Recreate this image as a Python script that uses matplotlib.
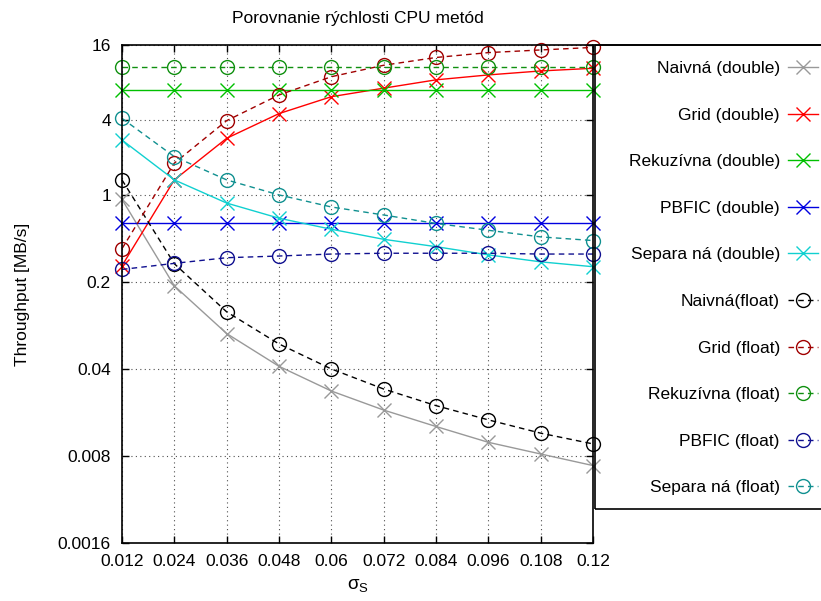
import numpy as np
import matplotlib.pyplot as plt
from matplotlib.patches import Rectangle

plt.rcParams['font.family'] = ['Liberation Sans', 'DejaVu Sans']
plt.rcParams['font.size'] = 12.5

# sigma_s values on the x axis
sigma = [0.012, 0.024, 0.036, 0.048, 0.06, 0.072, 0.084, 0.096, 0.108, 0.12]

# throughput in MB/s, double precision
naive_d = [0.92, 0.186, 0.077, 0.042, 0.0266, 0.0187, 0.0138, 0.0103, 0.0083, 0.0067]
grid_d = [0.27, 1.32, 2.85, 4.5, 6.15, 7.2, 8.4, 9.2, 9.9, 10.4]
rec_d = [7.0, 7.0, 7.0, 7.0, 7.0, 7.0, 7.0, 7.0, 7.0, 7.0]
pbfic_d = [0.6, 0.6, 0.6, 0.6, 0.6, 0.6, 0.6, 0.6, 0.6, 0.6]
sep_d = [2.76, 1.32, 0.86, 0.65, 0.53, 0.44, 0.384, 0.33, 0.29, 0.265]

# throughput in MB/s, single precision
naive_f = [1.32, 0.28, 0.115, 0.0635, 0.040, 0.0276, 0.0203, 0.0156, 0.0122, 0.0100]
grid_f = [0.37, 1.8, 3.95, 6.35, 8.9, 11.0, 12.7, 13.9, 14.6, 15.3]
rec_f = [10.7, 10.7, 10.7, 10.7, 10.7, 10.7, 10.7, 10.7, 10.7, 10.7]
pbfic_f = [0.252, 0.282, 0.313, 0.323, 0.335, 0.34, 0.34, 0.34, 0.335, 0.335]
sep_f = [4.12, 2.03, 1.32, 1.0, 0.80, 0.69, 0.59, 0.52, 0.46, 0.43]

yticks = [0.0016, 0.008, 0.04, 0.2, 1, 4, 16]
ytick_labels = ['0.0016', '0.008', '0.04', '0.2', '1', '4', '16']
xtick_labels = ['0.012', '0.024', '0.036', '0.048', '0.06', '0.072', '0.084', '0.096', '0.108', '0.12']

series = [
    (naive_d, 'Naivná (double)', '#999999', 'x'),
    (grid_d, 'Grid (double)', '#ff0000', 'x'),
    (rec_d, 'Rekuzívna (double)', '#00c000', 'x'),
    (pbfic_d, 'PBFIC (double)', '#0000e0', 'x'),
    (sep_d, 'Separa ná (double)', '#10d0d0', 'x'),
    (naive_f, 'Naivná(float)', '#000000', 'o'),
    (grid_f, 'Grid (float)', '#a00000', 'o'),
    (rec_f, 'Rekuzívna (float)', '#109010', 'o'),
    (pbfic_f, 'PBFIC (float)', '#101090', 'o'),
    (sep_f, 'Separa ná (float)', '#109090', 'o'),
]

W, H = 821, 601
fig = plt.figure(figsize=(W / 100, H / 100), dpi=100)
ax = fig.add_axes([122 / W, 1 - 543 / H, (593 - 122) / W, (543 - 45) / H])

for vals, label, color, marker in series:
    kw = dict(color=color, lw=1.0, marker=marker, markersize=10,
              markeredgewidth=1.0, label=label)
    if marker == 'o':
        # single precision: hollow circles on dashed lines
        kw.update(markerfacecolor='none', dashes=(4, 3))
    ax.plot(sigma, vals, clip_on=False, **kw)

ax.set_yscale('log')
ax.set_xlim(sigma[0], sigma[-1])
ax.set_ylim(yticks[0], yticks[-1])
ax.set_yticks(yticks)
ax.set_yticklabels(ytick_labels)
ax.minorticks_off()
ax.set_xticks(sigma)
ax.set_xticklabels(xtick_labels)
ax.tick_params(direction='in', length=5, width=1, top=True, right=True,
               labelsize=12.5, pad=8)
ax.grid(True, color='#505050', linestyle=(0, (1, 3)), linewidth=0.8)
for s in ax.spines.values():
    s.set_linewidth(1.2)

ax.set_title('Porovnanie rýchlosti CPU metód', fontsize=12.5, pad=16)
ax.set_xlabel(r'$\mathregular{\sigma_S}$', fontsize=13.5, labelpad=6)
ax.set_ylabel('Throughput [MB/s]', fontsize=12.5, labelpad=20)

# key box on the right
fig.add_artist(Rectangle((595 / W, 1 - 509 / H), 0.5, (509 - 45) / H,
                         transform=fig.transFigure, fill=False,
                         edgecolor='black', lw=1.2, clip_on=False))
fig.add_artist(plt.Line2D([595 / W, 1], [1 - 45 / H] * 2, color='black', lw=1.2,
                          transform=fig.transFigure))

ax.legend(loc='upper right', bbox_to_anchor=(818 / W, 1 - 61 / H),
          bbox_transform=fig.transFigure, frameon=False, markerfirst=False,
          labelspacing=1.81, handlelength=1.7, handletextpad=0.5,
          borderaxespad=0, borderpad=0, fontsize=12.5)

fig.savefig('out.png', dpi=100)
